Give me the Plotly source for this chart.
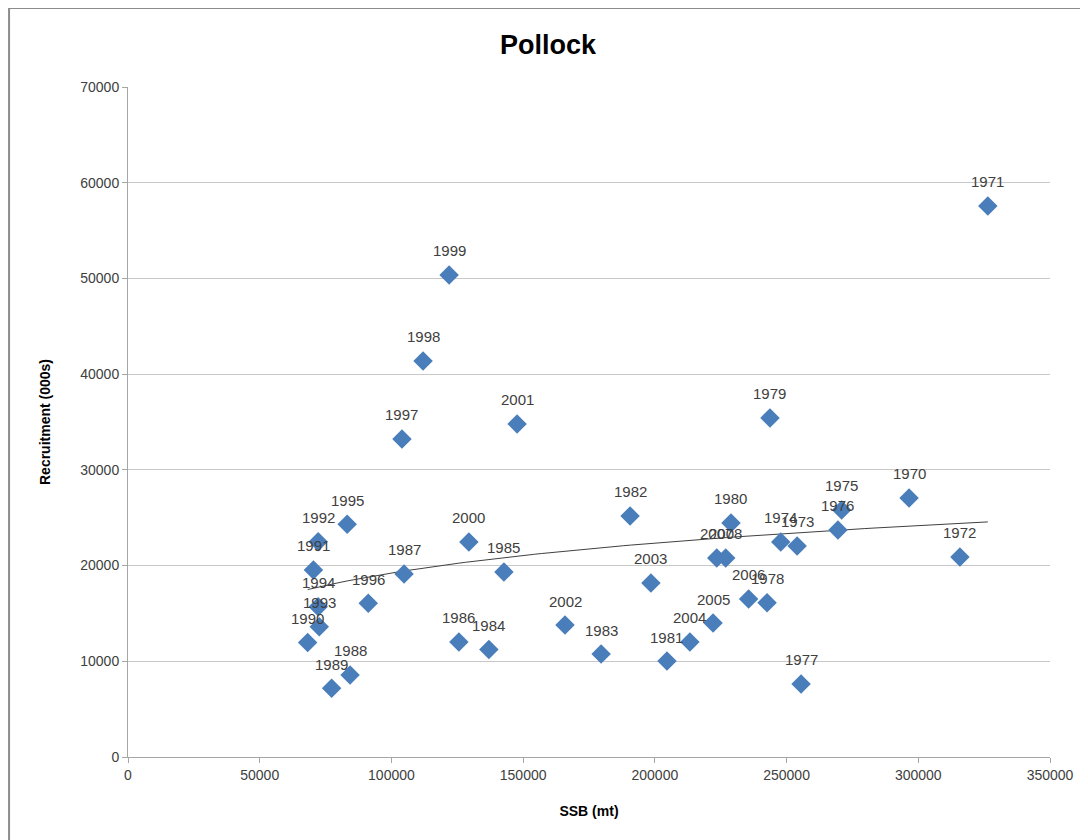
import numpy as np
import plotly.graph_objects as go

years = [1970, 1971, 1972, 1973, 1974, 1975, 1976, 1977, 1978, 1979,
         1980, 1981, 1982, 1983, 1984, 1985, 1986, 1987, 1988, 1989,
         1990, 1991, 1992, 1993, 1994, 1995, 1996, 1997, 1998, 1999,
         2000, 2001, 2002, 2003, 2004, 2005, 2006, 2007, 2008]
ssb = [296500, 326400, 315800, 254000, 247800, 270900, 269500, 255500, 242600, 243700,
       228900, 204600, 190600, 179600, 137000, 142700, 125600, 104800, 84300, 77300,
       68200, 70400, 72200, 72600, 72200, 83200, 91200, 104000, 112000, 121900,
       129400, 147700, 165900, 198500, 213300, 222100, 235600, 223500, 226900]
recruitment = [27070, 57580, 20900, 22050, 22470, 25810, 23720, 7630, 16120, 35430,
               24450, 10030, 25180, 10760, 11230, 19330, 12020, 19120, 8570, 7180,
               11950, 19540, 22500, 13620, 15710, 24310, 16060, 33230, 41380, 50370,
               22470, 34800, 13790, 18180, 12020, 14000, 16510, 20800, 20800]

x_ticks = [0, 50000, 100000, 150000, 200000, 250000, 300000, 350000]
y_ticks = [0, 10000, 20000, 30000, 40000, 50000, 60000, 70000]

font = "Liberation Sans Narrow, Liberation Sans, sans-serif"

# logarithmic trendline over the data range, like Excel's
a, b = np.polyfit(np.log(ssb), recruitment, 1)
trend_x = np.linspace(min(ssb), max(ssb), 100)
trend_y = a * np.log(trend_x) + b

fig = go.Figure()
fig.add_trace(go.Scatter(
    x=trend_x, y=trend_y, mode="lines",
    line=dict(color="#404040", width=1), hoverinfo="skip", showlegend=False
))
fig.add_trace(go.Scatter(
    x=ssb, y=recruitment, mode="markers",
    marker=dict(symbol="diamond", size=15, color="#4a7ebb"),
    text=[str(y) for y in years], showlegend=False
))

for yr, xv, yv in zip(years, ssb, recruitment):
    fig.add_annotation(x=xv, y=yv, text=str(yr), showarrow=False, yshift=24,
                       font=dict(family=font, size=15, color="#404040"))

# chart-area border (left and top edges visible, the rest is cut off)
fig.add_shape(type="rect", xref="paper", yref="paper",
              x0=-0.129, y0=-0.3, x1=1.2, y1=1.1179,
              line=dict(color="#8c8c8c", width=2), layer="above")

fig.update_layout(
    width=1080, height=832,
    paper_bgcolor="white", plot_bgcolor="white",
    margin=dict(l=120, r=38, t=79, b=83),
    title=dict(text="<b>Pollock</b>", x=0.5, xanchor="center", y=0.9555, yanchor="middle",
               font=dict(family=font, size=27, color="black")),
    xaxis=dict(range=[0, 350000], tickvals=x_ticks, ticktext=[str(v) for v in x_ticks],
               showgrid=False, zeroline=False, showline=True, linecolor="#a6a6a6",
               ticks="outside", ticklen=5, tickcolor="#a6a6a6",
               tickfont=dict(family=font, size=14, color="#404040"),
               title=dict(text="<b>SSB (mt)</b>", font=dict(family=font, size=14, color="black"),
                          standoff=24)),
    yaxis=dict(range=[0, 70000], tickvals=y_ticks, ticktext=[str(v) for v in y_ticks],
               showgrid=True, gridcolor="#c8c8c8", gridwidth=1, zeroline=False,
               showline=True, linecolor="#a6a6a6",
               ticks="outside", ticklen=5, tickcolor="#a6a6a6",
               tickfont=dict(family=font, size=14, color="#404040"),
               title=dict(text="<b>Recruitment (000s)</b>", font=dict(family=font, size=14, color="black"),
                          standoff=26)),
)

fig.write_html("out.html")
